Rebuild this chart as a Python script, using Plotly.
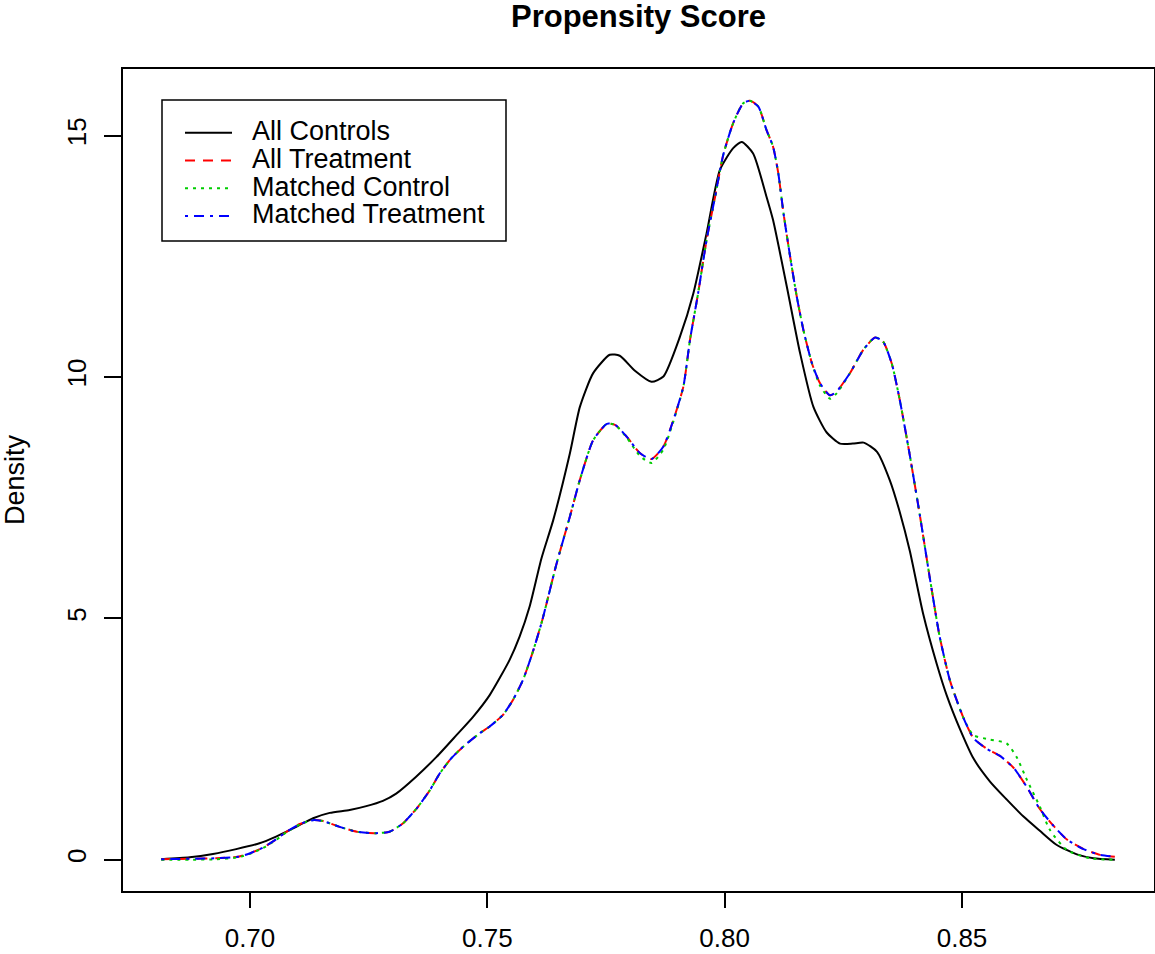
import plotly.graph_objects as go

# ---- data (propensity score densities) ----
ctrl_x = [0.6813, 0.6873, 0.6922, 0.6971, 0.7020, 0.7055, 0.7077, 0.7105, 0.7133, 0.7168,
          0.7210, 0.7245, 0.7280, 0.7308, 0.7350, 0.7393, 0.7435, 0.7470, 0.7505, 0.7547,
          0.7568, 0.7589, 0.7614, 0.7639, 0.7674, 0.7695, 0.7723, 0.7758, 0.7779, 0.7811,
          0.7846, 0.7871, 0.7906, 0.7934, 0.7962, 0.7990, 0.8018, 0.8036, 0.8060, 0.8088,
          0.8102, 0.8131, 0.8159, 0.8187, 0.8215, 0.8243, 0.8270, 0.8293, 0.8321, 0.8348,
          0.8369, 0.8390, 0.8418, 0.8447, 0.8468, 0.8496, 0.8524, 0.8559, 0.8594, 0.8629,
          0.8664, 0.8699, 0.8742, 0.8777, 0.8822]
ctrl_y = [0.01, 0.05, 0.12, 0.22, 0.34, 0.48, 0.58, 0.72, 0.86, 0.97,
          1.03, 1.11, 1.22, 1.37, 1.72, 2.13, 2.58, 2.96, 3.41, 4.14,
          4.62, 5.24, 6.24, 7.04, 8.42, 9.38, 10.08, 10.46, 10.44, 10.13,
          9.90, 10.01, 10.84, 11.73, 12.98, 14.29, 14.74, 14.87, 14.63, 13.74,
          13.25, 11.87, 10.49, 9.38, 8.85, 8.62, 8.62, 8.64, 8.45, 7.86,
          7.20, 6.40, 5.10, 4.05, 3.40, 2.70, 2.10, 1.62, 1.25, 0.90,
          0.60, 0.31, 0.11, 0.03, 0.00]

treat_x = [0.6813, 0.6873, 0.6929, 0.6975, 0.6999, 0.7027, 0.7055, 0.7077, 0.7105, 0.7133,
           0.7154, 0.7189, 0.7225, 0.7266, 0.7294, 0.7322, 0.7351, 0.7379, 0.7400, 0.7424,
           0.7449, 0.7484, 0.7505, 0.7533, 0.7554, 0.7575, 0.7596, 0.7616, 0.7645, 0.7674,
           0.7695, 0.7723, 0.7752, 0.7769, 0.7794, 0.7822, 0.7846, 0.7871, 0.7892, 0.7913,
           0.7927, 0.7944, 0.7962, 0.7980, 0.7997, 0.8018, 0.8039, 0.8053, 0.8071, 0.8088,
           0.8102, 0.8113, 0.8124, 0.8138, 0.8152, 0.8166, 0.8184, 0.8201, 0.8222, 0.8236,
           0.8264, 0.8292, 0.8317, 0.8334, 0.8352, 0.8369, 0.8390, 0.8411, 0.8432, 0.8453,
           0.8475, 0.8503, 0.8524, 0.8552, 0.8580, 0.8609, 0.8637, 0.8664, 0.8693, 0.8721,
           0.8756, 0.8791, 0.8822]
treat_y = [0.01, 0.02, 0.03, 0.06, 0.13, 0.25, 0.42, 0.58, 0.74, 0.82,
           0.80, 0.68, 0.58, 0.55, 0.58, 0.75, 1.06, 1.44, 1.79, 2.10,
           2.34, 2.62, 2.76, 3.00, 3.31, 3.72, 4.31, 4.97, 6.10, 7.11,
           7.87, 8.69, 9.03, 9.01, 8.76, 8.42, 8.30, 8.56, 9.11, 9.80,
           10.77, 11.73, 12.84, 13.74, 14.60, 15.26, 15.67, 15.72, 15.60, 15.12,
           14.77, 14.22, 13.39, 12.49, 11.66, 10.97, 10.28, 9.87, 9.62, 9.70,
           10.08, 10.56, 10.82, 10.73, 10.28, 9.52, 8.38, 7.15, 5.85, 4.62,
           3.70, 2.94, 2.52, 2.30, 2.15, 1.90, 1.50, 1.05, 0.70, 0.42,
           0.22, 0.10, 0.06]

mtreat_x = list(treat_x)
mtreat_y = list(treat_y)

mctrl_x = [0.6813, 0.6873, 0.6929, 0.6975, 0.6999, 0.7027, 0.7055, 0.7077, 0.7105, 0.7133,
           0.7154, 0.7189, 0.7225, 0.7266, 0.7294, 0.7322, 0.7351, 0.7379, 0.7400, 0.7424,
           0.7449, 0.7484, 0.7505, 0.7533, 0.7554, 0.7575, 0.7596, 0.7616, 0.7645, 0.7674,
           0.7695, 0.7723, 0.7752, 0.7769, 0.7794, 0.7822, 0.7846, 0.7871, 0.7892, 0.7913,
           0.7927, 0.7944, 0.7962, 0.7980, 0.7997, 0.8018, 0.8039, 0.8053, 0.8071, 0.8088,
           0.8102, 0.8113, 0.8124, 0.8138, 0.8152, 0.8166, 0.8184, 0.8201, 0.8222, 0.8236,
           0.8264, 0.8292, 0.8317, 0.8334, 0.8352, 0.8369, 0.8390, 0.8411, 0.8432, 0.8453,
           0.8475, 0.8503, 0.8524, 0.8559, 0.8594, 0.8615, 0.8637, 0.8664, 0.8685, 0.8721,
           0.8769, 0.8822]
mctrl_y = [0.00, 0.00, 0.01, 0.05, 0.12, 0.24, 0.41, 0.57, 0.73, 0.82,
           0.80, 0.68, 0.58, 0.55, 0.58, 0.75, 1.06, 1.44, 1.79, 2.10,
           2.34, 2.62, 2.76, 3.00, 3.31, 3.72, 4.31, 4.97, 6.10, 7.11,
           7.87, 8.69, 9.03, 9.01, 8.74, 8.36, 8.22, 8.50, 9.08, 9.80,
           10.77, 11.73, 12.84, 13.74, 14.60, 15.26, 15.67, 15.72, 15.60, 15.12,
           14.77, 14.22, 13.39, 12.49, 11.66, 10.97, 10.28, 9.82, 9.55, 9.66,
           10.08, 10.56, 10.82, 10.73, 10.28, 9.52, 8.38, 7.15, 5.85, 4.62,
           3.70, 2.94, 2.58, 2.49, 2.41, 2.13, 1.65, 1.10, 0.62, 0.20,
           0.03, 0.00]

series_names = ["All Controls", "All Treatment", "Matched Control", "Matched Treatment"]
series_colors = ["#000000", "#FF0000", "#00CD00", "#0000FF"]
series_dash = ["solid", "10px,8px", "3px,5px", "3px,6px,10px,6px"]

x_ticks = [0.70, 0.75, 0.80, 0.85]
x_tick_labels = ["0.70", "0.75", "0.80", "0.85"]
y_ticks = [0, 5, 10, 15]
y_tick_labels = ["0", "5", "10", "15"]

FONT = "Liberation Sans, Arial, Helvetica, sans-serif"

W, H = 1155, 954
ML, MR, MT, MB = 123, 1, 69, 954 - 891
PW = W - ML - MR
PH = H - MT - MB


def px_x(p):  # page x pixel -> paper coordinate
    return (p - ML) / PW


def px_y(p):  # page y pixel -> paper coordinate
    return (H - MB - p) / PH


fig = go.Figure()
data = [(ctrl_x, ctrl_y), (treat_x, treat_y), (mctrl_x, mctrl_y), (mtreat_x, mtreat_y)]
for (xs, ys), name, col, dash in zip(data, series_names, series_colors, series_dash):
    fig.add_trace(go.Scatter(
        x=xs, y=ys, mode="lines",
        name='<span style="font-size:27px">\u00a0\u00a0' + name + '</span>',
        line=dict(color=col, width=2, dash=dash, shape="spline", smoothing=0.6),
    ))

# legend frame
fig.add_shape(type="rect", xref="paper", yref="paper",
              x0=px_x(162), x1=px_x(506), y0=px_y(241), y1=px_y(100),
              line=dict(color="black", width=1.5), fillcolor="white", layer="above")

fig.update_layout(
    width=W, height=H,
    margin=dict(l=ML, r=MR, t=MT, b=MB, autoexpand=False),
    paper_bgcolor="white", plot_bgcolor="white",
    font=dict(family=FONT, size=26, color="black"),
    title=dict(text="<b>Propensity Score</b>", x=0.5, xref="paper", xanchor="center",
               y=1 - 16 / H, yref="container", yanchor="middle",
               font=dict(family=FONT, size=31, color="black")),
    showlegend=True,
    legend=dict(x=px_x(180), y=px_y(114), xanchor="left", yanchor="top",
                bgcolor="rgba(0,0,0,0)", borderwidth=0,
                font=dict(family=FONT, size=19, color="black"),
                itemwidth=47, tracegroupgap=0),
    xaxis=dict(range=[0.67325, 0.89045], tickmode="array", tickvals=x_ticks,
               ticktext=x_tick_labels, ticks="outside", ticklen=15, tickwidth=1.5,
               tickcolor="black", showline=True, linecolor="black", linewidth=1.5,
               mirror=True, showgrid=False, zeroline=False, ticklabelstandoff=8,
               tickfont=dict(family=FONT, size=26, color="black")),
    yaxis=dict(range=[-0.648, 16.38], tickmode="array", tickvals=y_ticks,
               ticktext=y_tick_labels, ticks="outside", ticklen=17, tickwidth=1.5,
               tickcolor="black", showline=True, linecolor="black", linewidth=1.5,
               mirror=True, showgrid=False, zeroline=False, tickangle=-90,
               ticklabelstandoff=8,
               tickfont=dict(family=FONT, size=26, color="black"),
               title=dict(text="Density", font=dict(family=FONT, size=27, color="black"),
                          standoff=41)),
)

fig.write_html(
    "out.html",
    config={"displayModeBar": False},
    post_script="document.body.style.margin='0';document.body.style.overflow='hidden';",
)
